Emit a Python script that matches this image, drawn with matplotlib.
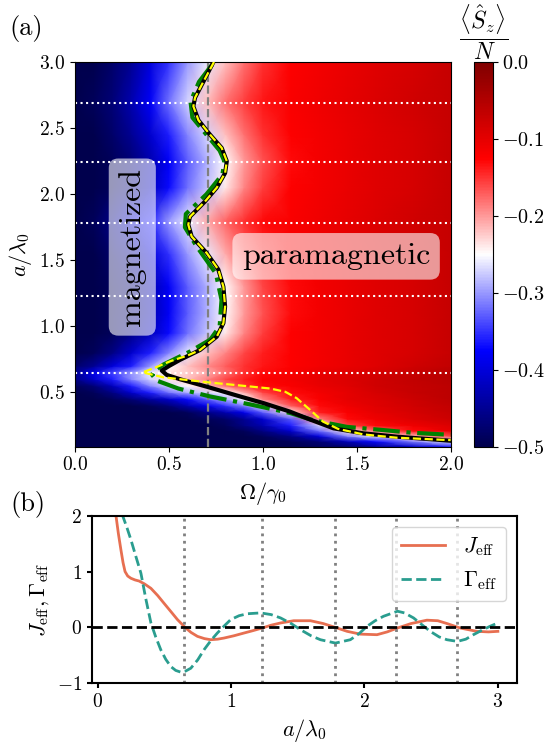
import numpy as np
import matplotlib
matplotlib.use("Agg")
import matplotlib.pyplot as plt

plt.rcParams.update({
    "font.family": "cmr10",
    "mathtext.fontset": "cm",
    "axes.formatter.use_mathtext": True,
    "axes.unicode_minus": True,
})

# ---- panel (a): <S_z>/N on the (Omega, a) plane ----
omega_grid = [0.0, 0.1, 0.2, 0.3, 0.4, 0.5, 0.6, 0.7, 0.8, 0.9, 1.0, 1.15, 1.3, 1.45, 1.6, 1.8, 2.0]
a_grid = [0.09, 0.13, 0.17, 0.21, 0.25, 0.30, 0.35, 0.40, 0.45, 0.50, 0.55, 0.60, 0.65,
          0.70, 0.80, 0.95, 1.10, 1.30, 1.55, 1.80, 2.05, 2.25, 2.45, 2.70, 3.00]
sz_grid = [
    [-.50, -.50, -.50, -.50, -.50, -.50, -.50, -.50, -.50, -.50, -.50, -.50, -.49, -.48, -.45, -.41, -.36],
    [-.50, -.50, -.50, -.50, -.50, -.50, -.50, -.50, -.50, -.50, -.50, -.49, -.47, -.42, -.37, -.31, -.26],
    [-.50, -.50, -.50, -.50, -.50, -.50, -.50, -.50, -.50, -.50, -.49, -.46, -.40, -.31, -.26, -.22, -.16],
    [-.50, -.50, -.50, -.50, -.50, -.50, -.50, -.50, -.50, -.49, -.46, -.41, -.32, -.24, -.18, -.13, -.10],
    [-.50, -.50, -.50, -.50, -.50, -.50, -.50, -.50, -.49, -.46, -.43, -.36, -.27, -.16, -.13, -.11, -.09],
    [-.50, -.50, -.50, -.50, -.50, -.50, -.50, -.49, -.48, -.45, -.41, -.33, -.19, -.13, -.11, -.09, -.075],
    [-.50, -.50, -.50, -.50, -.50, -.50, -.49, -.46, -.43, -.39, -.33, -.24, -.14, -.12, -.10, -.085, -.07],
    [-.50, -.50, -.50, -.50, -.49, -.47, -.43, -.39, -.35, -.31, -.26, -.17, -.13, -.11, -.095, -.08, -.065],
    [-.50, -.50, -.49, -.47, -.44, -.41, -.37, -.33, -.29, -.25, -.19, -.14, -.12, -.10, -.09, -.075, -.06],
    [-.50, -.49, -.46, -.41, -.36, -.32, -.29, -.27, -.25, -.21, -.16, -.13, -.115, -.10, -.085, -.07, -.06],
    [-.49, -.47, -.42, -.36, -.31, -.27, -.25, -.22, -.18, -.15, -.13, -.12, -.105, -.095, -.08, -.07, -.06],
    [-.46, -.41, -.36, -.31, -.27, -.24, -.22, -.19, -.16, -.14, -.125, -.115, -.10, -.09, -.08, -.065, -.055],
    [-.45, -.39, -.34, -.30, -.26, -.235, -.225, -.21, -.18, -.15, -.13, -.12, -.105, -.095, -.085, -.07, -.055],
    [-.48, -.45, -.40, -.36, -.30, -.25, -.22, -.195, -.17, -.15, -.135, -.125, -.115, -.105, -.095, -.08, -.065],
    [-.50, -.49, -.46, -.41, -.36, -.31, -.26, -.22, -.19, -.16, -.14, -.125, -.115, -.105, -.095, -.085, -.07],
    [-.50, -.50, -.49, -.46, -.42, -.37, -.32, -.28, -.24, -.19, -.155, -.125, -.115, -.105, -.095, -.085, -.07],
    [-.50, -.50, -.49, -.47, -.43, -.38, -.33, -.29, -.25, -.20, -.165, -.13, -.115, -.105, -.095, -.085, -.07],
    [-.50, -.50, -.49, -.47, -.43, -.38, -.33, -.29, -.25, -.20, -.16, -.13, -.115, -.105, -.095, -.085, -.07],
    [-.50, -.50, -.48, -.45, -.40, -.35, -.30, -.26, -.21, -.17, -.145, -.125, -.115, -.105, -.095, -.085, -.07],
    [-.50, -.49, -.46, -.41, -.36, -.30, -.26, -.21, -.175, -.15, -.13, -.12, -.11, -.10, -.09, -.08, -.07],
    [-.50, -.50, -.49, -.46, -.42, -.37, -.32, -.28, -.24, -.19, -.155, -.125, -.115, -.105, -.095, -.085, -.07],
    [-.50, -.50, -.49, -.47, -.43, -.38, -.33, -.29, -.25, -.20, -.165, -.13, -.115, -.105, -.095, -.085, -.07],
    [-.50, -.50, -.48, -.45, -.41, -.36, -.31, -.27, -.22, -.18, -.15, -.125, -.115, -.105, -.095, -.085, -.07],
    [-.50, -.49, -.47, -.43, -.38, -.32, -.27, -.22, -.18, -.155, -.135, -.12, -.11, -.10, -.09, -.08, -.07],
    [-.50, -.50, -.48, -.45, -.40, -.35, -.30, -.26, -.22, -.18, -.15, -.125, -.115, -.105, -.095, -.085, -.07],
]

# phase boundaries (Omega, a)
black_om = [0.737, 0.683, 0.639, 0.630, 0.657, 0.719, 0.781, 0.808, 0.799, 0.755, 0.692, 0.612,
            0.603, 0.621, 0.701, 0.763, 0.790, 0.799, 0.790, 0.755, 0.666, 0.559, 0.500, 0.462,
            0.488, 0.560, 0.701, 0.879, 1.003, 1.145, 1.234, 1.376, 1.535, 1.713, 1.944, 2.0]
black_a = [3.0, 2.85, 2.73, 2.665, 2.56, 2.45, 2.35, 2.25, 2.16, 2.05, 1.945, 1.83,
           1.77, 1.68, 1.555, 1.43, 1.30, 1.15, 1.025, 0.923, 0.822, 0.747, 0.70, 0.666,
           0.633, 0.60, 0.544, 0.47, 0.42, 0.355, 0.305, 0.229, 0.191, 0.166, 0.141, 0.135]

yellow_om = [0.740, 0.683, 0.639, 0.630, 0.657, 0.719, 0.781, 0.808, 0.799, 0.755, 0.692, 0.612,
             0.603, 0.621, 0.701, 0.763, 0.790, 0.799, 0.790, 0.755, 0.666, 0.600, 0.506, 0.430,
             0.360, 0.470, 0.700, 0.900, 1.040, 1.120, 1.180, 1.250, 1.320, 1.400, 1.535, 1.713,
             1.944, 2.0]
yellow_a = [3.0, 2.85, 2.73, 2.665, 2.56, 2.45, 2.35, 2.25, 2.16, 2.05, 1.945, 1.83,
            1.77, 1.68, 1.555, 1.43, 1.30, 1.15, 1.025, 0.923, 0.822, 0.78, 0.736, 0.69,
            0.652, 0.615, 0.578, 0.55, 0.53, 0.505, 0.457, 0.37, 0.28, 0.225, 0.183, 0.158,
            0.143, 0.14]

green_om = [0.730, 0.660, 0.615, 0.625, 0.700, 0.770, 0.795, 0.785, 0.700, 0.590, 0.585, 0.650,
            0.750, 0.780, 0.770, 0.720, 0.612, 0.470, 0.420, 0.410, 0.435, 0.550, 0.719, 0.932,
            1.145, 1.269, 1.447, 1.624, 1.800, 2.0]
green_a = [2.98, 2.85, 2.70, 2.58, 2.45, 2.33, 2.25, 2.15, 2.00, 1.85, 1.75, 1.60,
           1.40, 1.20, 1.00, 0.90, 0.81, 0.711, 0.66, 0.635, 0.59, 0.53, 0.47, 0.41,
           0.345, 0.29, 0.24, 0.218, 0.195, 0.18]

resonances = [0.65, 1.23, 1.78, 2.24, 2.69]
omega_mark = 0.707

# ---- panel (b): effective couplings vs a/lambda0 ----
a_J = [0.10, 0.12, 0.137, 0.155, 0.174, 0.19, 0.205, 0.225, 0.249, 0.28, 0.311, 0.35, 0.399,
       0.45, 0.498, 0.55, 0.598, 0.66, 0.70, 0.748, 0.80, 0.847, 0.90, 0.947, 1.02, 1.097,
       1.16, 1.234, 1.30, 1.371, 1.47, 1.595, 1.69, 1.782, 1.87, 1.969, 2.094, 2.17, 2.248,
       2.35, 2.468, 2.55, 2.618, 2.717, 2.842, 2.93, 3.0]
J_eff = [3.2, 2.5, 2.0, 1.68, 1.39, 1.16, 1.0, 0.92, 0.88, 0.85, 0.83, 0.78, 0.70,
         0.57, 0.43, 0.28, 0.14, -0.01, -0.09, -0.16, -0.20, -0.22, -0.21, -0.19, -0.15, -0.10,
         -0.06, -0.01, 0.04, 0.08, 0.12, 0.12, 0.07, 0.0, -0.07, -0.12, -0.13, -0.08, -0.01,
         0.07, 0.13, 0.12, 0.07, -0.01, -0.07, -0.08, -0.07]

a_G = [0.10, 0.15, 0.187, 0.22, 0.249, 0.285, 0.324, 0.36, 0.399, 0.435, 0.473, 0.51, 0.548,
       0.585, 0.623, 0.66, 0.698, 0.75, 0.797, 0.85, 0.897, 0.95, 0.997, 1.06, 1.122, 1.221,
       1.30, 1.371, 1.45, 1.52, 1.60, 1.67, 1.782, 1.894, 1.96, 2.019, 2.08, 2.143, 2.248,
       2.30, 2.368, 2.43, 2.493, 2.56, 2.618, 2.697, 2.76, 2.817, 2.88, 2.941, 3.0]
G_eff = [3.6, 2.6, 2.0, 1.78, 1.57, 1.28, 0.97, 0.52, 0.08, -0.17, -0.40, -0.57, -0.70,
         -0.77, -0.80, -0.78, -0.73, -0.58, -0.40, -0.23, -0.10, 0.03, 0.14, 0.21, 0.245, 0.26,
         0.23, 0.17, 0.07, -0.04, -0.15, -0.22, -0.28, -0.22, -0.11, 0.02, 0.12, 0.20, 0.29,
         0.26, 0.17, 0.05, -0.07, -0.17, -0.22, -0.25, -0.21, -0.13, -0.05, 0.02, 0.08]

W, H = 546, 748
fig = plt.figure(figsize=(W / 100, H / 100), dpi=100)

ax = fig.add_axes([75 / W, 1 - 446.7 / H, 375.7 / W, 384.7 / H])
cax = fig.add_axes([474.3 / W, 1 - 446.7 / H, 18.4 / W, 384.7 / H])
ax2 = fig.add_axes([91.7 / W, 1 - 683.3 / H, 425.5 / W, 167.6 / H])

mesh = ax.pcolormesh(omega_grid, a_grid, np.array(sz_grid), shading="gouraud",
                     cmap="seismic", vmin=-0.5, vmax=0.0, rasterized=True)
for r in resonances:
    ax.axhline(r, color="white", ls=":", lw=1.5)
ax.axvline(omega_mark, color="gray", ls="--", lw=1.6)
ax.plot(green_om, green_a, color="green", ls="-.", lw=3, zorder=3)
ax.plot(black_om, black_a, color="black", lw=3, zorder=4)
ax.plot(yellow_om, yellow_a, color="yellow", ls="--", lw=1.6, zorder=5)

ax.text(0.305, 1.6, "magnetized", rotation=90, fontsize=23, ha="center", va="center",
        bbox=dict(boxstyle="round,pad=0.3", fc="white", ec="none", alpha=0.6))
ax.text(1.39, 1.53, "paramagnetic", fontsize=23, ha="center", va="center",
        bbox=dict(boxstyle="round,pad=0.3", fc="white", ec="none", alpha=0.6))

ax.set_xlim(0, 2)
ax.set_ylim(0.09, 3.0)
ax.set_xticks([0, 0.5, 1.0, 1.5, 2.0])
ax.set_yticks([0.5, 1.0, 1.5, 2.0, 2.5, 3.0])
ax.tick_params(labelsize=14)
ax.set_xlabel(r"$\Omega/\gamma_0$", fontsize=16)
ax.set_ylabel(r"$a/\lambda_0$", fontsize=16)

cb = fig.colorbar(mesh, cax=cax)
cb.set_ticks([0.0, -0.1, -0.2, -0.3, -0.4, -0.5])
cb.ax.tick_params(labelsize=14.5)
cax.set_title(r"$\dfrac{\langle \hat{S}_z \rangle}{N}$", fontsize=17, pad=9)

ax2.plot(a_J, J_eff, color="#e76f51", lw=2, label=r"$J_{\rm eff}$")
ax2.plot(a_G, G_eff, color="#2a9d8f", lw=2, ls="--", label=r"$\Gamma_{\rm eff}$")
ax2.axhline(0, color="black", ls="--", lw=2)
for r in resonances:
    ax2.axvline(r, color="gray", ls=":", lw=2)
ax2.set_xlim(-0.045, 3.145)
ax2.set_ylim(-1, 2)
ax2.set_xticks([0, 1, 2, 3])
ax2.set_yticks([-1, 0, 1, 2])
ax2.tick_params(labelsize=14, width=1.5)
for s in ax2.spines.values():
    s.set_linewidth(1.5)
ax2.set_xlabel(r"$a/\lambda_0$", fontsize=16)
ax2.set_ylabel(r"$J_{\rm eff}, \Gamma_{\rm eff}$", fontsize=16)
ax2.legend(loc="upper right", fontsize=16)

fig.text(26 / W, 1 - 28 / H, "(a)", fontsize=19, ha="center", va="center")
fig.text(28 / W, 1 - 505 / H, "(b)", fontsize=19, ha="center", va="center")

fig.savefig("out.png", dpi=100)
